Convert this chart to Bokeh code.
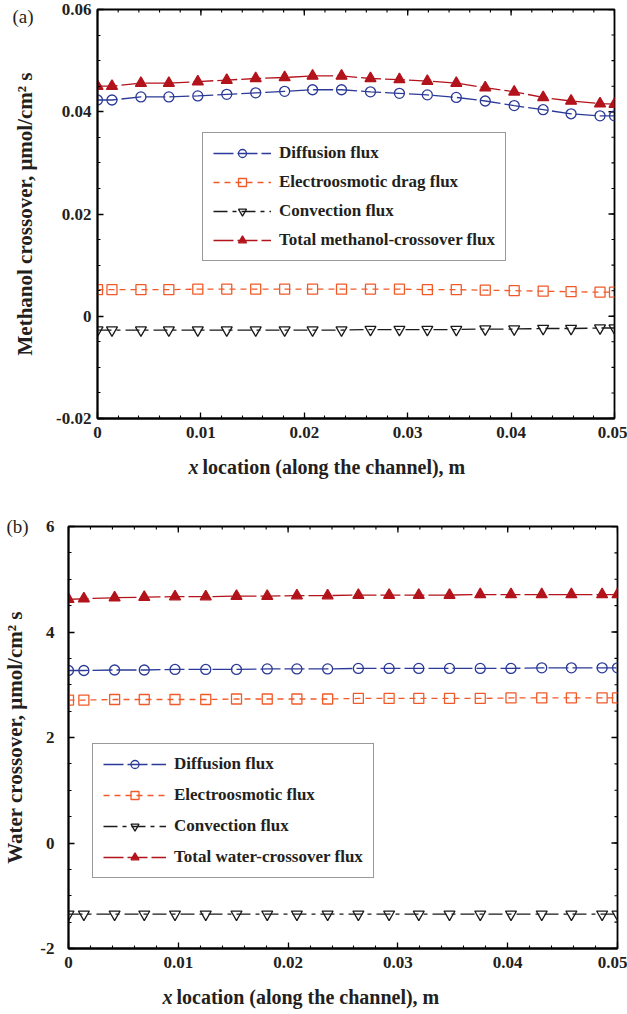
import numpy as np
from bokeh.plotting import figure
from bokeh.models import (Range1d, SingleIntervalTicker, PrintfTickFormatter,
                          Legend, LegendItem, Label)
from bokeh.layouts import column
from bokeh.embed import file_html
from bokeh.resources import INLINE

# ---------------- data ----------------
x_loc = [0.0, 0.0014, 0.0042, 0.0069, 0.0097, 0.0125, 0.0153, 0.0181, 0.0208, 0.0236,
         0.0264, 0.0292, 0.0319, 0.0347, 0.0375, 0.0403, 0.0431, 0.0458, 0.0486, 0.05]

meoh_diffusion = [0.0423, 0.0423, 0.0429, 0.0429, 0.0431, 0.0434, 0.0437, 0.0440, 0.0443, 0.0443,
                  0.0439, 0.0436, 0.0433, 0.0428, 0.0421, 0.0412, 0.0404, 0.0396, 0.0392, 0.0392]
meoh_electro = [0.0052, 0.0052, 0.0052, 0.0052, 0.0053, 0.0053, 0.0053, 0.0053, 0.0053, 0.0053,
                0.0053, 0.0053, 0.0052, 0.0052, 0.0051, 0.0050, 0.0049, 0.0048, 0.0047, 0.0047]
meoh_convection = [-0.0027, -0.0027, -0.0027, -0.0027, -0.0027, -0.0027, -0.0027, -0.0027, -0.0027, -0.0027,
                   -0.0026, -0.0026, -0.0026, -0.0026, -0.0025, -0.0025, -0.0024, -0.0024, -0.0023, -0.0023]
meoh_total = [0.0450, 0.0450, 0.0456, 0.0456, 0.0459, 0.0462, 0.0465, 0.0467, 0.0470, 0.0470,
              0.0465, 0.0463, 0.0460, 0.0456, 0.0447, 0.0439, 0.0428, 0.0421, 0.0416, 0.0415]

water_diffusion = [3.27, 3.27, 3.28, 3.28, 3.29, 3.29, 3.29, 3.30, 3.30, 3.30,
                   3.31, 3.31, 3.31, 3.31, 3.31, 3.31, 3.32, 3.32, 3.32, 3.32]
water_electro = [2.71, 2.71, 2.72, 2.72, 2.72, 2.72, 2.73, 2.73, 2.73, 2.73,
                 2.74, 2.74, 2.74, 2.74, 2.74, 2.75, 2.75, 2.75, 2.75, 2.75]
water_convection = [-1.35, -1.35, -1.35, -1.35, -1.35, -1.35, -1.35, -1.35, -1.35, -1.35,
                    -1.35, -1.35, -1.35, -1.35, -1.35, -1.35, -1.35, -1.35, -1.35, -1.35]
water_total = [4.62, 4.63, 4.65, 4.66, 4.67, 4.67, 4.68, 4.68, 4.69, 4.69,
               4.70, 4.70, 4.70, 4.70, 4.71, 4.71, 4.71, 4.71, 4.71, 4.71]

labels_a = ["Diffusion flux", "Electroosmotic drag flux", "Convection flux",
            "Total methanol-crossover flux"]
labels_b = ["Diffusion flux", "Electroosmotic flux", "Convection flux",
            "Total water-crossover flux"]

FONT = "Liberation Serif"
BLUE = "#2b3a98"
ORANGE = "#f05a28"
BLACK = "#1a1a1a"
RED = "#b3131b"
TXT = "#231f20"


def style_axis(ax, ticker, standoff):
    ax.ticker = ticker
    ax.formatter = PrintfTickFormatter(format="%g")
    ax.major_tick_in = 6
    ax.major_tick_out = 0
    ax.minor_tick_in = 3
    ax.minor_tick_out = 0
    ax.axis_line_width = 1.8
    ax.axis_line_color = "black"
    ax.major_tick_line_color = "black"
    ax.minor_tick_line_color = "black"
    ax.major_tick_line_width = 1.3
    ax.minor_tick_line_width = 1.1
    ax.major_label_text_font = FONT
    ax.major_label_text_font_style = "bold"
    ax.major_label_text_color = TXT
    ax.major_label_text_font_size = "17px"
    ax.major_label_standoff = standoff


def build(height, borders, y_lo, y_hi, y_int, y_title, y_title_standoff,
          y_tick_standoff, series, labels, legend_loc, legend_spacing, glyph_w,
          tag, tag_px, tag_side, xtitle_px):
    width = 627
    top, right, bottom, left = borders
    fw = width - left - right
    fh = height - top - bottom

    def dx(px):
        return (px - left) / fw * 0.05

    def dy(py):
        return y_hi - (py - top) / fh * (y_hi - y_lo)

    p = figure(width=width, height=height, output_backend="svg", toolbar_location=None,
               x_range=Range1d(0, 0.05), y_range=Range1d(y_lo, y_hi),
               min_border_top=top, min_border_right=right,
               min_border_bottom=bottom, min_border_left=left,
               background_fill_color="white", border_fill_color="white")
    p.frame_align = False
    p.xgrid.visible = False
    p.ygrid.visible = False
    p.outline_line_color = "black"
    p.outline_line_width = 1.8

    style_axis(p.xaxis[0], SingleIntervalTicker(interval=0.01, num_minor_ticks=5), 8)
    style_axis(p.yaxis[0], SingleIntervalTicker(interval=y_int, num_minor_ticks=4),
               y_tick_standoff)
    p.xaxis[0].axis_label = None
    p.yaxis[0].axis_label = y_title
    p.yaxis[0].axis_label_text_font = FONT
    p.yaxis[0].axis_label_text_font_style = "bold"
    p.yaxis[0].axis_label_text_font_size = "21px"
    p.yaxis[0].axis_label_text_color = TXT
    p.yaxis[0].axis_label_standoff = y_title_standoff

    # mirrored inward ticks on the right and top frame edges
    y_major = np.arange(y_lo, y_hi + 1e-9, y_int)
    y_minor = np.arange(y_lo, y_hi + 1e-9, y_int / 4)
    x_major = np.arange(0, 0.05 + 1e-9, 0.01)
    x_minor = np.arange(0, 0.05 + 1e-9, 0.002)
    for xs, ys, ln, ang, lw in [([0.05] * len(y_minor), y_minor, 3, np.pi, 1.1),
                               ([0.05] * len(y_major), y_major, 6, np.pi, 1.3),
                               (x_minor, [y_hi] * len(x_minor), 3, -np.pi / 2, 1.1),
                               (x_major, [y_hi] * len(x_major), 6, -np.pi / 2, 1.3)]:
        p.ray(x=xs, y=ys, length=ln, length_units="screen", angle=ang,
              line_color="black", line_width=lw)

    items = []
    for (yv, color, dash, marker, fill, size), lab in zip(series, labels):
        ln = p.line(x_loc, yv, line_color=color, line_width=1.3, line_dash=dash)
        sc = p.scatter(x_loc, yv, marker=marker, size=size, line_color=color,
                       line_width=1.3, fill_color=fill)
        items.append(LegendItem(label=lab, renderers=[ln, sc]))

    leg = Legend(items=items, location=legend_loc, margin=0, padding=10,
                 spacing=legend_spacing, glyph_width=glyph_w, glyph_height=20,
                 label_height=20, label_standoff=8,
                 label_text_font=FONT, label_text_font_style="bold",
                 label_text_font_size="17px", label_text_color=TXT,
                 border_line_color="#333333", border_line_width=1.5,
                 background_fill_color="white", background_fill_alpha=1.0)
    p.add_layout(leg)

    # texts outside the frame: placed in side panels so they are not clipped
    p.add_layout(Label(x=dx(tag_px[0]), y=dy(tag_px[1]),
                       text=tag, text_font=FONT, text_font_size="19px",
                       text_color=TXT, text_baseline="middle", text_align="left"), tag_side)
    p.add_layout(Label(x=dx(xtitle_px[0]), y=dy(xtitle_px[1]),
                       text="x", text_font=FONT, text_font_size="20px",
                       text_font_style="bold italic", text_color=TXT,
                       text_baseline="middle", text_align="left"), "below")
    p.add_layout(Label(x=dx(xtitle_px[0] + 14), y=dy(xtitle_px[1]),
                       text="location (along the channel), m", text_font=FONT,
                       text_font_size="20px", text_font_style="bold",
                       text_color=TXT, text_baseline="middle", text_align="left"), "below")
    return p


series_a = [
    (meoh_diffusion, BLUE, "20 4", "circle", None, 10),
    (meoh_electro, ORANGE, "6 5", "square", None, 10),
    (meoh_convection, BLACK, "14 5 4 5", "inverted_triangle", None, 11),
    (meoh_total, RED, "20 4", "triangle", RED, 11),
]
series_b = [
    (water_diffusion, BLUE, "20 4", "circle", None, 10),
    (water_electro, ORANGE, "6 5", "square", None, 10),
    (water_convection, BLACK, "14 5 4 5", "inverted_triangle", None, 11),
    (water_total, RED, "20 4", "triangle", RED, 11),
]

p1 = build(505, (9, 13, 84, 97), -0.02, 0.06, 0.02,
           "Methanol crossover, \u03bcmol/cm\u00b2 s", 16, 6,
           series_a, labels_a, (105, 157), 9, 58,
           "(a)", (12, 16), "below", (188, 470))
p2 = build(509, (20, 10, 65, 68), -2, 6, 2,
           "Water crossover, \u03bcmol/cm\u00b2 s", 10, 14,
           series_b, labels_b, (24, 70), 11, 63,
           "(b)", (6, 20), "above", (162, 493))

layout = column(p1, p2, spacing=0)
open("out.html", "w").write(file_html(layout, INLINE))
